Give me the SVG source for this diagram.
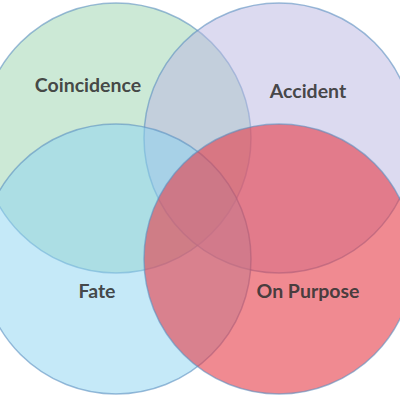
<svg xmlns="http://www.w3.org/2000/svg" width="400" height="400" viewBox="0 0 400 400">
<style>
.c{stroke:#5b8fbf;stroke-opacity:0.6;stroke-width:1.5}
.t{font-family:Lato,"Liberation Sans",sans-serif;font-weight:bold;font-size:19.5px;text-anchor:middle;fill:#333;fill-opacity:0.9}
</style>
<rect width="400" height="400" fill="#ffffff"/>
<g id="coincidence"><circle class="c" cx="116" cy="138" r="135" fill="rgb(153,211,173)" fill-opacity="0.5"/></g>
<g id="accident"><circle class="c" cx="279" cy="138" r="135" fill="rgb(185,181,225)" fill-opacity="0.5"/></g>
<g id="fate"><circle class="c" cx="116" cy="259" r="135" fill="rgb(139,211,241)" fill-opacity="0.5"/></g>
<g id="onpurpose"><circle class="c" cx="279" cy="259" r="135" fill="rgb(230,60,72)" fill-opacity="0.6"/></g>
<g id="labels">
<text class="t" x="88" y="92">Coincidence</text>
<text class="t" x="308" y="98">Accident</text>
<text class="t" x="97" y="298">Fate</text>
<text class="t" x="308" y="298">On Purpose</text>
</g>
<g id="connectors"/>
</svg>
